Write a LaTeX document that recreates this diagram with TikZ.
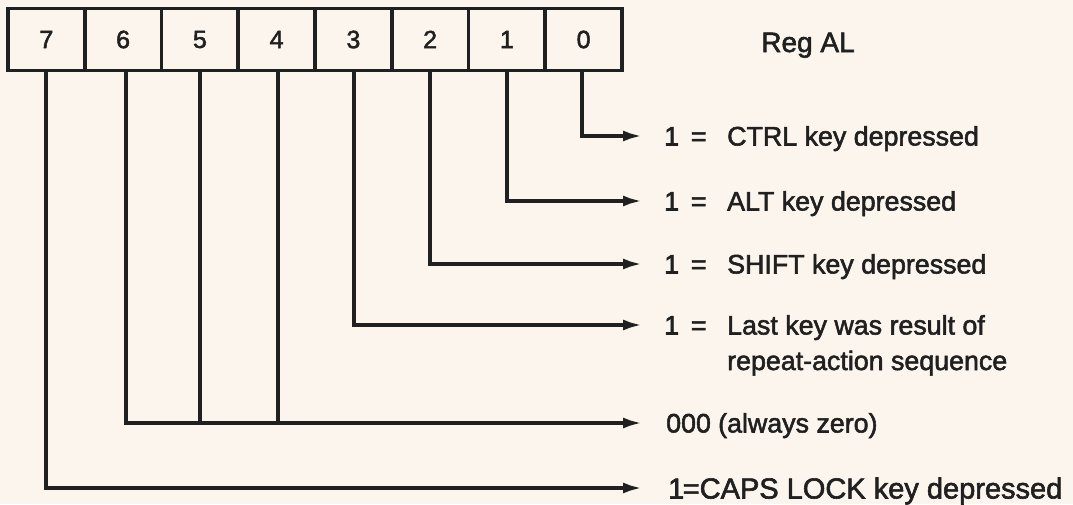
\documentclass[tikz,border=0pt]{standalone}
\usepackage{fontspec}
\setmainfont{Liberation Sans}
\newfontfamily\medfont{Liberation Sans}[FakeBold=2]
\usetikzlibrary{arrows.meta}
\definecolor{paper}{RGB}{251,245,238}
\definecolor{ink}{RGB}{32,32,32}
\newcommand\oneeq[1]{\makebox[26.7pt][l]{1}\makebox[36.3pt][l]{=}#1}
\begin{document}
\begin{tikzpicture}[x=1pt,y=-1pt,
  bitbox/.style={draw=ink, line width=3.8pt, minimum width=76.75pt, minimum height=62pt, inner sep=0pt,
    font=\medfont\fontsize{25}{30}\selectfont, text=ink},
  wire/.style={draw=ink, line width=4pt, line join=miter},
  arr/.style={wire, -{Latex[length=20pt,width=11pt]}},
  lbl/.style={anchor=base west, inner sep=0pt, text=ink, font=\medfont\fontsize{26.8}{37}\selectfont}]
\fill[paper] (0,0) rectangle (1073,504);
\useasboundingbox (0,0) rectangle (1073,504);

% register bits
\node[bitbox] (b7) at (46.4,39.5) {7};
\node[bitbox] (b6) at (123.1,39.5) {6};
\node[bitbox] (b5) at (199.9,39.5) {5};
\node[bitbox] (b4) at (276.6,39.5) {4};
\node[bitbox] (b3) at (353.4,39.5) {3};
\node[bitbox] (b2) at (430.1,39.5) {2};
\node[bitbox] (b1) at (506.9,39.5) {1};
\node[bitbox] (b0) at (583.6,39.5) {0};
\node[lbl, anchor=base, font=\medfont\fontsize{28}{32}\selectfont] (reg) at (808,52) {Reg AL};

% arrow ends
\coordinate (a0) at (643,136);
\coordinate (a1) at (643,201);
\coordinate (a2) at (643,264);
\coordinate (a3) at (643,325);
\coordinate (a4) at (643,423);
\coordinate (a7) at (643,488);

% descriptions
\node[lbl] (t0) at (664,145.5) {\oneeq{CTRL key depressed}};
\node[lbl] (t1) at (664,210.5) {\oneeq{ALT key depressed}};
\node[lbl] (t2) at (664,273.5) {\oneeq{SHIFT key depressed}};
\node[lbl] (t3) at (664,334.5) {\oneeq{Last key was result of}};
\node[lbl] (t3b) at (727,370) {repeat-action sequence};
\node[lbl] (t4) at (666,432.5) {\makebox[52pt][l]{000}(always zero)};
\node[lbl, font=\medfont\fontsize{29}{34}\selectfont] (t7) at (668,498.5)
  {\makebox[14.5pt][l]{1}\makebox[17pt][l]{=}CAPS LOCK key depressed};

% connectors
\draw[arr] ([xshift=-1.6pt]b0.south) |- (a0);
\draw[arr] ([xshift=0.1pt]b1.south) |- (a1);
\draw[arr] (b2.south) |- (a2);
\draw[arr] ([xshift=0.6pt]b3.south) |- (a3);
\draw[arr] ([xshift=2.9pt]b6.south) |- (a4);
\draw[wire] (b5.south) -- (b5.south |- a4);
\draw[wire] ([xshift=1.4pt]b4.south) -- ([xshift=1.4pt]b4.south |- a4);
\draw[arr] (b7.south) |- (a7);
\end{tikzpicture}
\end{document}
